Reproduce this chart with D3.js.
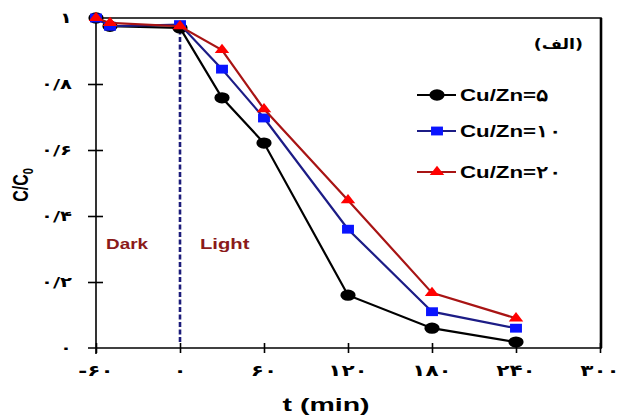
<script src="https://cdn.jsdelivr.net/npm/d3@7"></script>
<html>
<body style="margin:0;background:#fff">
<div id="chart"></div>
</body>
<script>
    // data
    const times = [-50, 0, 30, 60, 120, 180, 240];
    const startTime = -60;
    const cu5 = [1.0, 0.975, 0.97, 0.758, 0.621, 0.16, 0.06, 0.018];
    const cu10 = [1.0, 0.975, 0.98, 0.845, 0.697, 0.36, 0.11, 0.06];
    const cu20 = [1.0, 0.985, 0.975, 0.903, 0.724, 0.448, 0.167, 0.09];
    const seriesNames = ['Cu/Zn=۵', 'Cu/Zn=۱۰', 'Cu/Zn=۲۰'];
    const xTicks = [-60, 0, 60, 120, 180, 240, 300];
    const xTickLabels = ['-۶۰', '۰', '۶۰', '۱۲۰', '۱۸۰', '۲۴۰', '۳۰۰'];
    const yTicks = [0, 0.2, 0.4, 0.6, 0.8, 1];
    const yTickLabels = ['۰', '۰/۲', '۰/۴', '۰/۶', '۰/۸', '۱'];

    const W = 622, H = 417;
    const sx = 1.35; // the picture is stretched sideways
    const svg = d3.select('#chart').append('svg')
        .attr('width', W).attr('height', H)
        .style('font-family', 'Liberation Sans, Arial, sans-serif')
        .style('font-weight', 'bold');

    const x = d3.scaleLinear().domain([-60, 300]).range([96, 600]);
    const y = d3.scaleLinear().domain([0, 1]).range([348, 18]);

    // stretched text helper
    function stext(g, tx, ty, str, size, anchor, fam, k) {
        const t = g.append('text')
            .attr('transform', `translate(${tx},${ty}) scale(${k || sx},1)`)
            .attr('text-anchor', anchor || 'start')
            .style('font-size', size + 'px')
            .text(str);
        if (fam) t.style('font-family', fam);
        return t;
    }

    const allT = [startTime].concat(times);
    const series = [
        {name: seriesNames[0], vals: cu5, line: '#000000', fill: '#000000', shape: d3.symbolCircle, size: 100},
        {name: seriesNames[1], vals: cu10, line: '#1c1c86', fill: '#0a14ff', shape: d3.symbolSquare, size: 78},
        {name: seriesNames[2], vals: cu20, line: '#a81414', fill: '#ff0000', shape: d3.symbolTriangle, size: 50},
    ];

    // frame (top + right)
    svg.append('path')
        .attr('d', `M${x(-60)},${y(1)}H${x(300) + 1}V${y(0)}`)
        .attr('fill', 'none').attr('stroke', '#000').attr('stroke-width', 1.6);
    svg.append('line')
        .attr('x1', x(300) + 1).attr('x2', x(300) + 1).attr('y1', y(1)).attr('y2', y(0))
        .attr('stroke', '#000').attr('stroke-width', 2.6);

    // axes
    const xAxis = svg.append('g').attr('transform', `translate(0,${y(0)})`)
        .call(d3.axisBottom(x).tickValues(xTicks).tickFormat('').tickSizeInner(5).tickSizeOuter(0));
    xAxis.select('.domain').attr('d', `M${x(-60) - 8},0H${x(300) + 2}`);
    xAxis.selectAll('.tick line').attr('y1', -5).attr('y2', 5);
    xAxis.selectAll('line, path').attr('stroke', '#000').attr('stroke-width', 1.6);

    const yAxis = svg.append('g').attr('transform', `translate(${x(-60)},0)`)
        .call(d3.axisLeft(y).tickValues(yTicks).tickFormat('').tickSizeInner(7).tickSizeOuter(0));
    yAxis.select('.domain').attr('d', `M0,${y(1)}V${y(0) + 6}`);
    yAxis.selectAll('.tick line').attr('x1', -8).attr('x2', 7);
    yAxis.selectAll('.tick').filter(d => d === 0 || d === 1).select('line').remove();
    yAxis.selectAll('line, path').attr('stroke', '#000').attr('stroke-width', 1.6);

    const xl = svg.append('g');
    xTicks.forEach((d, i) => {
        stext(xl, x(d), 376, xTickLabels[i], 16, 'middle', 'DejaVu Sans, sans-serif')
            .attr('direction', 'ltr');
    });

    const yl = svg.append('g');
    yTicks.forEach((d, i) => {
        stext(yl, 72, y(d) + 5, yTickLabels[i], 14.5, 'end', 'DejaVu Sans, sans-serif');
    });

    // dark / light separator
    svg.append('line')
        .attr('x1', x(0)).attr('x2', x(0))
        .attr('y1', y(0.965)).attr('y2', y(0) - 6)
        .attr('stroke', '#1c1c7a').attr('stroke-width', 2.6)
        .attr('stroke-dasharray', '5,2.5');

    stext(svg, 106, 249, 'Dark', 14).attr('fill', '#8b1a1a');
    stext(svg, 200, 249, 'Light', 15).attr('fill', '#8b1a1a');

    // series
    const line = d3.line().x(d => x(d[0])).y(d => y(d[1]));
    series.forEach(s => {
        const pts = allT.map((t, i) => [t, s.vals[i]]);
        svg.append('path').datum(pts)
            .attr('d', line)
            .attr('fill', 'none').attr('stroke', s.line).attr('stroke-width', 2.2);
        svg.append('g').selectAll('path').data(pts).join('path')
            .attr('transform', d => `translate(${x(d[0])},${y(d[1])}) scale(${sx},1)`)
            .attr('d', d3.symbol().type(s.shape).size(s.size))
            .attr('fill', s.fill);
    });

    // legend
    const leg = svg.append('g');
    series.forEach((s, i) => {
        const ly = [95, 131, 172][i];
        leg.append('line').attr('x1', 417).attr('x2', 456).attr('y1', ly).attr('y2', ly)
            .attr('stroke', s.line).attr('stroke-width', 2.2);
        leg.append('path').attr('transform', `translate(437,${ly}) scale(${sx},1)`)
            .attr('d', d3.symbol().type(s.shape).size(s.size))
            .attr('fill', s.fill);
        stext(leg, 460, ly + 6, s.name, 16.5).attr('direction', 'ltr');
    });

    // with rtl, "start" anchors the right edge
    stext(svg, 583, 49, '(الف)', 14, 'start', 'DejaVu Sans, sans-serif', 1.25).attr('direction', 'rtl');

    // axis titles
    stext(svg, 326, 411, 't (min)', 19, 'middle', null, 1.5);

    const yt = svg.append('text')
        .attr('transform', `translate(28,185) scale(${sx},1) rotate(-90)`)
        .attr('text-anchor', 'middle')
        .style('font-size', '16px');
    yt.append('tspan').text('C/C');
    yt.append('tspan').attr('dy', 4).style('font-size', '11px').text('0');
</script>
</html>
